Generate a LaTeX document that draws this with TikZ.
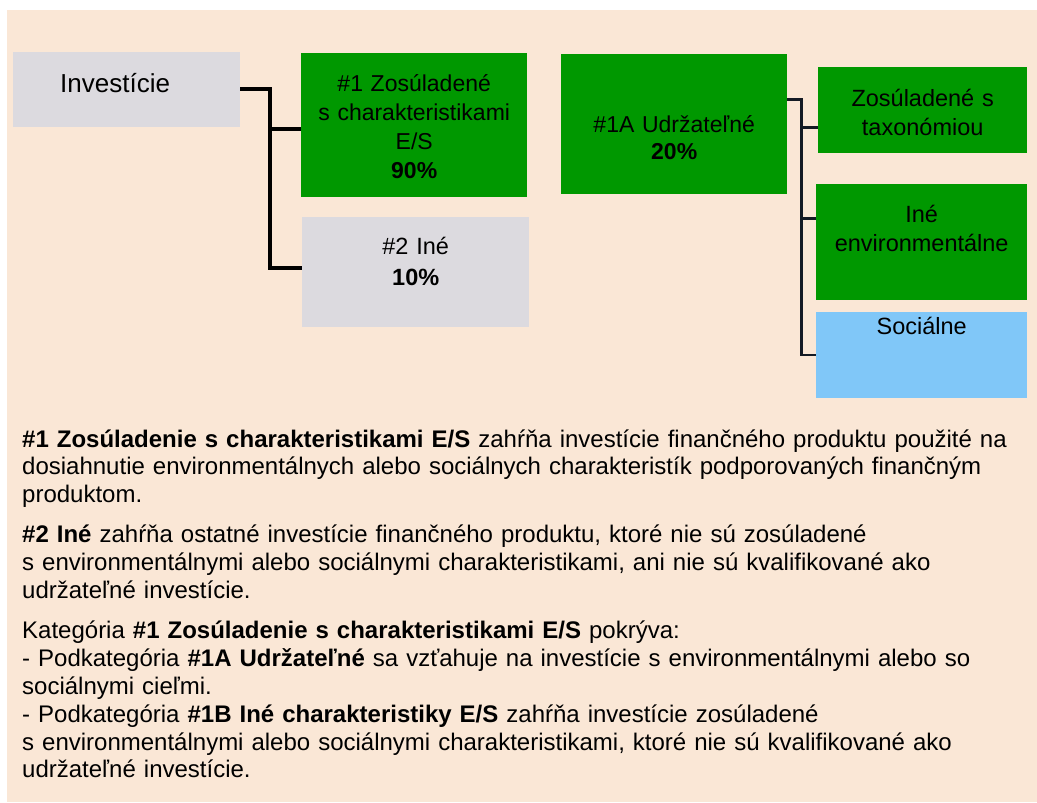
\documentclass[tikz,border=0pt]{standalone}
\usepackage{fontspec}
\setmainfont{Liberation Sans}
\usetikzlibrary{positioning}
\definecolor{beige}{RGB}{250,231,214}
\definecolor{boxgreen}{RGB}{0,152,0}
\definecolor{boxgray}{RGB}{220,218,223}
\definecolor{boxblue}{RGB}{128,199,248}
\definecolor{linknavy}{RGB}{20,26,36}

\begin{document}
\begin{tikzpicture}[x=1pt,y=-1pt,
    box/.style={anchor=north west, inner sep=0pt, align=center,
      font=\fontsize{23.5}{29}\selectfont},
    link/.style={line width=4pt, black},
    sublink/.style={line width=2.8pt, linknavy}]
  \useasboundingbox (0,0) rectangle (1037,803);
  \fill[beige] (7,10) rectangle (1037,802);

  \node[box, fill=boxgray, text width=133pt, inner xsep=47pt, align=left,
    text height=40.5pt, text depth=34.5pt, font=\fontsize{26}{30}\selectfont] (inv) at (13,52) {Investície};
  \node[box, fill=boxgreen, text width=226pt, text height=38.7pt, text depth=105.3pt,
    font=\fontsize{23}{29}\selectfont] (one) at (301,53)
    {\#1 Zosúladené\\ s charakteristikami\\ E/S\\ \textbf{90\%}};
  \node[box, fill=boxgray, text width=227pt, text height=38pt, text depth=72pt,
    font=\fontsize{23.5}{31}\selectfont,
    below=19pt of one.south west, anchor=north west, xshift=1pt] (two) {\#2 Iné\\ \textbf{10\%}};

  \node[box, fill=boxgreen, text width=226pt, text height=78pt, text depth=62pt,
    font=\fontsize{23}{27}\selectfont] (ua) at (561,54) {\#1A Udržateľné\\ \textbf{20\%}};
  \node[box, fill=boxgreen, text width=209pt, text height=39pt, text depth=47pt] (tax) at (818,67)
    {Zosúladené s\\ taxonómiou};
  \node[box, fill=boxgreen, text width=211pt, text height=39pt, text depth=77pt,
    below=30pt of tax.south west, anchor=north west, xshift=-2pt] (env) {Iné\\ environmentálne};
  \node[box, fill=boxblue, text width=211pt, text height=22pt, text depth=64pt,
    below=12pt of env.south west, anchor=north west] (soc) {Sociálne};

  \draw[link] ([yshift=1pt]inv.east) -- ++(30,0) coordinate (fork) |- ([yshift=-4pt]one.west);
  \draw[link] (fork) |- ([yshift=4pt]two.west);

  \draw[sublink] ([yshift=25pt]ua.east) -- ++(14,0) coordinate (split) |- ([yshift=-17pt]tax.west);
  \draw[sublink] (split) |- ([yshift=23pt]env.west);
  \draw[sublink] (split) |- (soc.west);

  \node[anchor=base west, inner sep=0pt, text width=1010pt, align=left,
    font=\fontsize{24}{27.8}\selectfont] (notes) at (22,447)
    {\textbf{\#1 Zosúladenie s charakteristikami E/S} zahŕňa investície finančného produktu použité na\\
     dosiahnutie environmentálnych alebo sociálnych charakteristík podporovaných finančným\\
     produktom.\\[12.5pt]
     \textbf{\#2 Iné} zahŕňa ostatné investície finančného produktu, ktoré nie sú zosúladené\\
     s environmentálnymi alebo sociálnymi charakteristikami, ani nie sú kvalifikované ako\\
     udržateľné investície.\\[12.5pt]
     Kategória \textbf{\#1 Zosúladenie s charakteristikami E/S} pokrýva:\\
     - Podkategória \textbf{\#1A Udržateľné} sa vzťahuje na investície s environmentálnymi alebo so\\
     sociálnymi cieľmi.\\
     - Podkategória \textbf{\#1B Iné charakteristiky E/S} zahŕňa investície zosúladené\\
     s environmentálnymi alebo sociálnymi charakteristikami, ktoré nie sú kvalifikované ako\\
     udržateľné investície.};
\end{tikzpicture}
\end{document}
